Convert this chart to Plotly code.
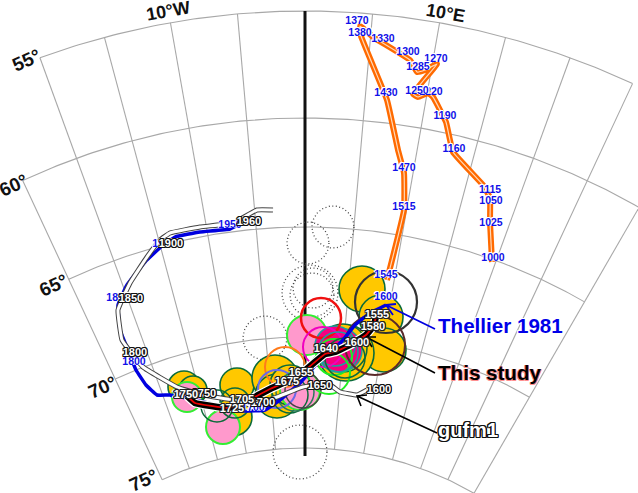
import numpy as np
import plotly.graph_objects as go

FONT = "Liberation Sans, Arial, sans-serif"

# graticule (reading of the map frame)
lat_radius = {55: 775, 60: 668, 65: 559, 70: 449, 75: 338}
pole_x, pole_y = 305, 786
lat_extent = {55: (-20, 25), 60: (-25, 30), 65: (-25, 30), 70: (-25, 30), 75: (-25, 30)}
lon_start_lat = {-25: 60, -20: 55, -15: 55, -10: 55, -5: 55, 5: 55, 10: 55, 15: 55, 20: 55, 25: 55, 30: 60}

# site circles, chart coordinates
dot_x = [333, 308, 310, 312, 313, 265, 300]
dot_y = [227, 243, 293, 295, 288, 338, 452]
dot_r = [21, 21, 28, 22, 20, 22, 27]

gold_x = [362, 381, 384, 346, 343, 184, 193, 237, 233, 275, 277, 290]
gold_y = [289, 317, 350, 353, 348, 387, 390, 385, 417, 378, 396, 385]
gold_r = [23, 22, 22, 28, 24, 16, 14, 17, 19, 23, 22, 20]

pink_x = [187, 223, 300, 307]
pink_y = [397, 427, 390, 335]
pink_r = [15, 17, 20, 20]

deep_x = [340, 335]
deep_y = [350, 346]
deep_r = [22, 20]

open_x = [217, 235, 285, 277, 290, 295, 303, 321, 323, 334, 329, 338, 386, 375, 345]
open_y = [406, 403, 367, 389, 395, 392, 390, 318, 347, 357, 373, 352, 302, 345, 358]
open_r = [16, 15, 20, 19, 18, 19, 18, 20, 20, 18, 21, 20, 31, 30, 20]
open_c = ["#0b6b3a", "#0b6b3a", "#ff7a1a", "#6a6ae8", "#0b6b3a", "#2d7a5a", "#444444", "#f01010",
          "#f000c0", "#22ee22", "#22ee22", "#1aa0a0", "#333333", "#5a2a2a", "#0b6b3a"]
open_w = [1.5, 1.5, 2, 2, 1.5, 1.5, 1.5, 2.5, 2, 2, 2, 1.5, 2.2, 2, 1.5]

# curves
orange_x = [492, 490, 490, 483, 453, 446, 433, 428, 418, 413, 437, 425, 417, 410, 373, 360, 361, 387, 398, 404, 404, 387]
orange_y = [262, 222, 198, 185, 152, 122, 97, 93, 97, 94, 64, 70, 72, 60, 37, 26, 36, 100, 150, 173, 210, 280]
orange_years = ["1000", "1025", "1050", "1115", "1160", "1190", "1220", "1250", "1270", "1285", "1300", "1330", "1370", "1380", "1430", "1470", "1515", "1545"]
orange_lx = [493, 491, 491, 490, 454, 445, 431, 417, 436, 418, 408, 383, 357, 360, 386, 404, 404, 386]
orange_ly = [258, 223, 201, 190, 149, 116, 92, 91, 59, 67, 52, 39, 21, 33, 93, 168, 207, 275]

blue_x = [386, 370, 355, 343, 335, 320, 300, 280, 265, 245, 225, 195, 170, 157, 146, 136, 128, 120, 118, 127, 145, 162, 175, 200, 230, 242]
blue_y = [305, 313, 325, 340, 348, 360, 383, 400, 410, 411, 407, 400, 395, 395, 385, 370, 350, 330, 305, 285, 262, 246, 237, 232, 229, 223]
blue_years = ["1600", "1700", "1750", "1800", "1850", "1900", "1950"]
blue_lx = [386, 253, 184, 134, 118, 164, 230]
blue_ly = [297, 408, 395, 362, 298, 244, 225]

study_x = [377, 374, 366, 350, 335, 325, 303, 290, 270, 243, 228, 195, 186]
study_y = [311, 325, 335, 345, 352, 354, 372, 380, 389, 403, 408, 403, 395]
study_years = ["1555", "1580", "1600", "1640", "1655", "1675", "1705", "1725", "1750"]
study_lx = [377, 373, 357, 326, 301, 287, 242, 232, 186]
study_ly = [315, 327, 343, 349, 373, 382, 400, 409, 395]

gufm_x = [367, 357, 340, 330, 303, 277, 250, 233, 203, 177, 143, 122, 118, 130, 147, 160, 170, 200, 233, 257, 273]
gufm_y = [390, 395, 392, 385, 387, 397, 405, 400, 395, 387, 367, 340, 310, 283, 257, 240, 233, 227, 223, 210, 210]
gufm_years = ["1600", "1650", "1700", "1750", "1800", "1850", "1900", "1960"]
gufm_lx = [379, 320, 263, 204, 135, 131, 171, 249]
gufm_ly = [390, 386, 403, 394, 353, 299, 244, 222]

# callouts
thellier_arrow_x = [435, 386, 396, 386, 393]
thellier_arrow_y = [329, 305, 304, 305, 315]
study_arrow_x = [435, 366, 376, 366, 372]
study_arrow_y = [373, 337, 337, 337, 347]
gufm_arrow_x = [437, 357, 367, 357, 361]
gufm_arrow_y = [433, 396, 395, 396, 406]

lat_labels = ["55°", "60°", "65°", "70°", "75°"]
lat_label_x = [26, 13, 53, 102, 143]
lat_label_y = [60, 185, 285, 387, 480]
lon_labels = ["10°W", "10°E"]
lon_label_x = [168, 445]
lon_label_y = [11, 13]
lon_label_angle = [-10, 10]


def project(lon, r):
    a = np.radians(lon)
    return pole_x + r * np.sin(a), pole_y - r * np.cos(a)


def halo(color, d=1):
    return ", ".join(f"{x}px {y}px 0 {color}" for x, y in
                     [(d, 0), (-d, 0), (0, d), (0, -d), (d, d), (-d, -d), (d, -d), (-d, d)])


fig = go.Figure()

GRID = "#a8a8a8"
for lat, (a, b) in lat_extent.items():
    lons = np.linspace(a, b, 120)
    x, y = project(lons, lat_radius[lat])
    fig.add_trace(go.Scatter(x=x, y=y, mode="lines", line=dict(color=GRID, width=1.1)))
for lon, start in lon_start_lat.items():
    x, y = project(lon, np.array([lat_radius[start], lat_radius[75]]))
    fig.add_trace(go.Scatter(x=x, y=y, mode="lines", line=dict(color=GRID, width=1.1)))

# central meridian
x0, y0 = project(0, np.array([lat_radius[55], lat_radius[75] - 8]))
fig.add_trace(go.Scatter(x=x0, y=y0, mode="lines", line=dict(color="#111111", width=3)))

# dotted circles
t = np.linspace(0, 2 * np.pi, 90)
for cx, cy, r in zip(dot_x, dot_y, dot_r):
    fig.add_trace(go.Scatter(x=cx + r * np.cos(t), y=cy + r * np.sin(t), mode="lines",
                             line=dict(color="#444444", width=1.3, dash="1px,2.5px")))


def discs(xs, ys, rs, fill, edge, w=1.6):
    fig.add_trace(go.Scatter(x=xs, y=ys, mode="markers",
                             marker=dict(size=[2 * r for r in rs], color=fill, opacity=1,
                                         line=dict(color=edge, width=w))))


discs(gold_x, gold_y, gold_r, "#ffc800", "#0b6b3a")
discs(pink_x, pink_y, pink_r, "#ff99cc", "#33ee33", 2)
discs(deep_x, deep_y, deep_r, "#f5007f", "#1aa0a0", 1.5)
for x, y, r, c, w in zip(open_x, open_y, open_r, open_c, open_w):
    discs([x], [y], [r], "rgba(0,0,0,0)", c, w)


def line(xs, ys, color, width):
    fig.add_trace(go.Scatter(x=xs, y=ys, mode="lines",
                             line=dict(color=color, width=width, shape="spline", smoothing=0.3)))


line(orange_x, orange_y, "#ff6a00", 6)
line(orange_x, orange_y, "#ffd9b8", 1.2)
line(blue_x, blue_y, "#0000e0", 3.5)
line(study_x, study_y, "#ffffff", 9)
line(study_x, study_y, "#000000", 6.5)
line(study_x, study_y, "#e80000", 1.8)
line(gufm_x, gufm_y, "#444444", 5)
line(gufm_x, gufm_y, "#ffffff", 3)

for ax, ay, c, w in [(thellier_arrow_x, thellier_arrow_y, "#0000e0", 1.8),
                     (study_arrow_x, study_arrow_y, "#000000", 1.6),
                     (gufm_arrow_x, gufm_arrow_y, "#000000", 1.6)]:
    fig.add_trace(go.Scatter(x=ax, y=ay, mode="lines", line=dict(color=c, width=w)))


def labels(xs, ys, txt, color, shadow, size=10.5, pos="middle center"):
    fig.add_trace(go.Scatter(x=xs, y=ys, text=txt, mode="text", textposition=pos,
                             textfont=dict(family=FONT, size=size, color=color, weight="bold",
                                           shadow=shadow)))


labels(orange_lx, orange_ly, orange_years, "#1010e8", halo("#ffffff", 0.8))
labels(blue_lx, blue_ly, blue_years, "#1010e8", halo("#ffffff", 0.8))
labels(gufm_lx, gufm_ly, gufm_years, "#ffffff", halo("#111111", 0.9), 11)
labels(study_lx, study_ly, study_years, "#ffffff", halo("#222222", 0.9), 11)

labels([438], [328], ["Thellier 1981"], "#0000e8", halo("#ffffff", 1), 20.6, "middle right")
labels([438], [375], ["This study"], "#000000", halo("#ff9090", 0.6), 20.6, "middle right")
labels([438], [432], ["gufm1"], "#ffffff", halo("#111111", 1.2), 20, "middle right")

ann = []
for s, x, y in zip(lat_labels, lat_label_x, lat_label_y):
    ann.append(dict(x=x, y=y, text=s, showarrow=False, textangle=-24,
                    font=dict(family=FONT, size=19, color="#111111", weight="bold")))
for s, x, y, a in zip(lon_labels, lon_label_x, lon_label_y, lon_label_angle):
    ann.append(dict(x=x, y=y, text=s, showarrow=False, textangle=a,
                    font=dict(family=FONT, size=18, color="#111111", weight="bold")))

fig.update_layout(
    width=638, height=493, margin=dict(l=0, r=0, t=0, b=0),
    paper_bgcolor="white", plot_bgcolor="white", showlegend=False, annotations=ann,
    xaxis=dict(range=[0, 638], visible=False),
    yaxis=dict(range=[493, 0], visible=False),
)
fig.write_html("out.html", config={"displayModeBar": False},
               post_script="document.body.style.margin='0';document.body.style.overflow='hidden';")
